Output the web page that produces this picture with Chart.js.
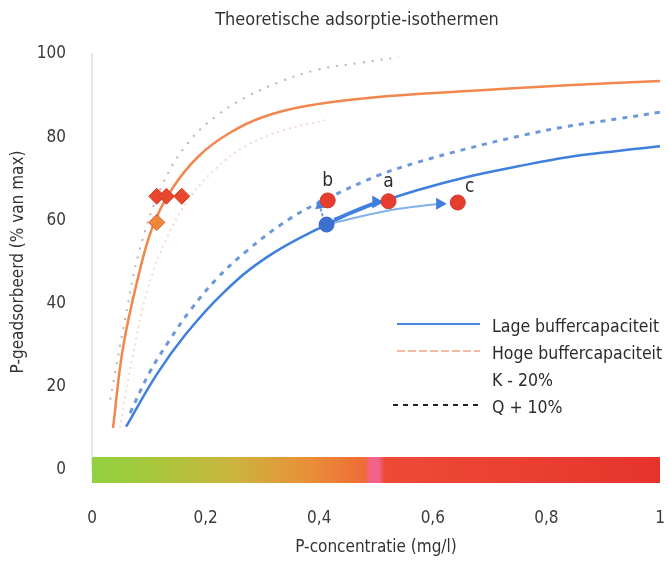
<!DOCTYPE html>
<html>
<head>
<meta charset="utf-8">
<script src="https://cdn.jsdelivr.net/npm/chart.js@4.4.1/dist/chart.umd.min.js"></script>
<style>
  html, body { margin: 0; padding: 0; background: #fff; }
  #wrap { width: 669px; height: 562px; position: relative; }
</style>
</head>
<body>
<div id="wrap"><canvas id="isotherm"></canvas></div>
<script>
// x = P-concentratie (mg/l), y = P-geadsorbeerd (% van max)
const lageConc = [0.060, 0.114, 0.166, 0.229, 0.306, 0.413, 0.487, 0.574, 0.662, 0.750, 0.837, 0.925, 1.0];
const lageAds  = [10.4, 23.0, 32.8, 42.3, 51.0, 59.0, 63.4, 67.3, 70.5, 73.0, 75.2, 76.7, 77.8];

const lageQConc = [0.067, 0.102, 0.137, 0.172, 0.219, 0.271, 0.347, 0.415, 0.504, 0.574, 0.662, 0.750, 0.837, 0.925, 1.0];
const lageQAds  = [13.7, 23.6, 31.3, 38.2, 45.9, 52.5, 60.3, 65.3, 70.8, 74.0, 77.3, 80.2, 82.6, 84.4, 86.0];

const hogeConc = [0.037, 0.054, 0.079, 0.107, 0.142, 0.189, 0.242, 0.300, 0.377, 0.499, 0.662, 0.837, 1.0];
const hogeAds  = [10.1, 28.9, 45.1, 58.6, 67.8, 75.6, 81.0, 84.8, 87.5, 89.6, 91.1, 92.5, 93.5];

const hogeQConc = [0.032, 0.058, 0.084, 0.124, 0.170, 0.221, 0.271, 0.331, 0.396, 0.473, 0.540];
const hogeQAds  = [16.9, 36.1, 53.0, 68.6, 78.8, 85.3, 89.6, 93.3, 96.2, 97.9, 99.2];

const hogeKConc = [0.049, 0.072, 0.098, 0.131, 0.172, 0.219, 0.271, 0.338, 0.417];
const hogeKAds  = [10.1, 27.7, 43.4, 55.6, 65.4, 72.6, 77.9, 81.7, 84.3];

const diamondConc = [0.114, 0.131, 0.158];
const diamondAds  = [65.8, 65.8, 65.8];
const lowDiamond  = [0.114, 59.5];

const pointNames = ['b', 'a', 'c'];
const redConc = [0.415, 0.522, 0.644];
const redAds  = [64.8, 64.6, 64.3];
const startPoint = [0.413, 59.0];

const arrowUpConc = [0.406, 0.401];
const arrowUpAds  = [61.0, 63.6];
const arrowAConc  = [0.426, 0.470, 0.500];
const arrowAAds   = [60.3, 62.8, 64.4];
const arrowCConc  = [0.426, 0.522, 0.612];
const arrowCAds   = [59.4, 62.4, 64.0];

const barSpan = [0, 1];
const xTicks = [0, 0.2, 0.4, 0.6, 0.8, 1];
const yTicks = [0, 20, 40, 60, 80, 100];

const chartTitle = 'Theoretische adsorptie-isothermen';
const legendRows = ['Lage buffercapaciteit', 'Hoge buffercapaciteit', 'K - 20%', 'Q + 10%'];

const FONT = "'DejaVu Sans Condensed', 'Liberation Sans', sans-serif";

const pts = (xs, ys) => xs.map((v, i) => ({ x: v, y: ys[i] }));

function barGradient(ctx) {
    const chart = ctx.chart;
    const a = chart.chartArea;
    if (!a) return '#e8402f';
    const g = chart.ctx.createLinearGradient(a.left, 0, a.right, 0);
    g.addColorStop(0, '#92d13f');
    g.addColorStop(0.12, '#aac63d');
    g.addColorStop(0.25, '#cbb43e');
    g.addColorStop(0.38, '#e98f38');
    g.addColorStop(0.48, '#ee6c36');
    g.addColorStop(0.49, '#f2628a');
    g.addColorStop(0.505, '#f2628a');
    g.addColorStop(0.515, '#ee4a36');
    g.addColorStop(1, '#e6342d');
    return g;
}

const annotate = {
    id: 'annotate',
    afterDatasetsDraw(chart) {
        const { ctx, chartArea, scales: { x, y } } = chart;
        ctx.save();
        ctx.fillStyle = '#333';
        ctx.textAlign = 'center';
        ctx.textBaseline = 'middle';
        ctx.font = '18px ' + FONT;
        ctx.fillText(chartTitle, chartArea.left + 265, 20);

        ctx.font = '19px ' + FONT;
        ctx.fillStyle = '#2b2b2b';
        ctx.textBaseline = 'bottom';
        const shift = [0, 0, 12];
        pointNames.forEach((name, i) => {
            ctx.fillText(name, x.getPixelForValue(redConc[i]) + shift[i],
                y.getPixelForValue(redAds[i]) - 10 + (i === 2 ? 4 : 0));
        });

        // legend, bottom right inside the plot
        const lx = chartArea.left + 305, lw = 83;
        const top = chartArea.top + 270, gap = 27;
        ctx.font = '17.5px ' + FONT;
        ctx.textAlign = 'left';
        ctx.textBaseline = 'middle';
        legendRows.forEach((name, i) => {
            ctx.fillText(name, lx + 95, top + i * gap + 3);
        });
        ctx.lineWidth = 2;
        ctx.strokeStyle = '#4a86e0';
        ctx.beginPath(); ctx.moveTo(lx, top); ctx.lineTo(lx + lw, top); ctx.stroke();
        ctx.strokeStyle = 'rgba(238,170,140,0.8)';
        ctx.setLineDash([8, 3]);
        ctx.beginPath(); ctx.moveTo(lx, top + gap); ctx.lineTo(lx + lw, top + gap); ctx.stroke();
        ctx.strokeStyle = '#222';
        ctx.setLineDash([5, 5]);
        ctx.beginPath(); ctx.moveTo(lx - 4, top + 3 * gap); ctx.lineTo(lx + lw, top + 3 * gap); ctx.stroke();
        ctx.restore();
    }
};

new Chart(document.getElementById('isotherm'), {
    type: 'scatter',
    data: {
        datasets: [
            { // a, b, c
                data: pts(redConc, redAds),
                pointRadius: 7.5, pointBackgroundColor: '#e63d2f', pointBorderColor: '#c9392a', pointBorderWidth: 1
            },
            {
                data: [{ x: startPoint[0], y: startPoint[1] }],
                pointRadius: 7.5, pointBackgroundColor: '#3d6fd1', pointBorderColor: '#3566c4', pointBorderWidth: 1
            },
            {
                data: pts(diamondConc, diamondAds),
                pointStyle: 'rectRot', pointRadius: 8, pointBackgroundColor: '#e8472f', pointBorderColor: '#d83e2a'
            },
            {
                data: [{ x: lowDiamond[0], y: lowDiamond[1] }],
                pointStyle: 'rectRot', pointRadius: 8, pointBackgroundColor: '#f0883a', pointBorderColor: '#e2532d'
            },
            { // arrows
                data: pts(arrowUpConc, arrowUpAds), showLine: true, borderColor: '#6a9ee6', borderWidth: 2,
                borderDash: [3, 2], pointRadius: [0, 4], pointStyle: 'triangle', pointRotation: -10,
                pointBackgroundColor: '#4a86e0', pointBorderColor: '#4a86e0'
            },
            {
                data: pts(arrowAConc, arrowAAds), showLine: true, borderColor: '#3f7fde', borderWidth: 2.5,
                tension: 0.4, pointRadius: [0, 0, 5], pointStyle: 'triangle', pointRotation: 90,
                pointBackgroundColor: '#3f7fde', pointBorderColor: '#3f7fde'
            },
            {
                data: pts(arrowCConc, arrowCAds), showLine: true, borderColor: '#84b0ec', borderWidth: 2,
                tension: 0.4, pointRadius: [0, 0, 5], pointStyle: 'triangle', pointRotation: 90,
                pointBackgroundColor: '#3f7fde', pointBorderColor: '#3f7fde'
            },
            { // Lage buffercapaciteit
                data: pts(lageConc, lageAds), showLine: true, borderColor: '#3f7fde', borderWidth: 2.5,
                tension: 0.4, pointRadius: 0
            },
            { // Lage, Q + 10%
                data: pts(lageQConc, lageQAds), showLine: true, borderColor: '#6d98d8', borderWidth: 3,
                borderDash: [5, 6], tension: 0.4, pointRadius: 0
            },
            { // Hoge buffercapaciteit
                data: pts(hogeConc, hogeAds), showLine: true, borderColor: '#f2874e', borderWidth: 2.5,
                tension: 0.4, pointRadius: 0
            },
            { // Hoge, Q + 10%
                data: pts(hogeQConc, hogeQAds), showLine: true, borderColor: 'rgba(190,160,165,0.85)', borderWidth: 2,
                borderDash: [2, 7], tension: 0.4, pointRadius: 0
            },
            { // Hoge, K - 20%
                data: pts(hogeKConc, hogeKAds), showLine: true, borderColor: 'rgba(240,185,170,0.7)', borderWidth: 1.5,
                borderDash: [2, 4], tension: 0.4, pointRadius: 0
            },
            { // colour bar along the concentration axis
                data: barSpan.map(v => ({ x: v, y: 0 })), showLine: true, borderColor: barGradient,
                borderWidth: 26, borderCapStyle: 'butt', pointRadius: 0, clip: false
            }
        ]
    },
    options: {
        responsive: true,
        maintainAspectRatio: false,
        animation: false,
        layout: { padding: { top: 54, right: 0 } },
        plugins: {
            legend: { display: false },
            tooltip: { enabled: false },
            title: { display: false }
        },
        scales: {
            x: {
                type: 'linear', min: 0, max: 1,
                afterBuildTicks: s => { s.ticks = xTicks.map(v => ({ value: v })); },
                afterFit: s => { s.height = 92; },
                grid: { display: true, drawOnChartArea: false, drawTicks: true, tickLength: 38, tickColor: 'rgba(0,0,0,0)' },
                border: { display: false },
                ticks: {
                    color: '#3a3a3a', padding: 0,
                    font: { family: FONT, size: 17 },
                    callback: v => String(v).replace('.', ',')
                },
                title: {
                    display: true, text: 'P-concentratie (mg/l)', color: '#333',
                    font: { family: FONT, size: 17 }, padding: { top: 6 }
                }
            },
            y: {
                min: 0, max: 100,
                afterBuildTicks: s => { s.ticks = yTicks.map(v => ({ value: v })); },
                afterFit: s => { s.width = 92; },
                grid: { display: false, drawTicks: false },
                border: { display: true, color: '#e8e8e8', width: 2 },
                ticks: { color: '#3a3a3a', padding: 26, font: { family: FONT, size: 17 } },
                title: {
                    display: true, text: 'P-geadsorbeerd (% van max)', color: '#333',
                    font: { family: FONT, size: 17 }, padding: { top: 8 }
                }
            }
        }
    },
    plugins: [annotate]
});
</script>
</body>
</html>
